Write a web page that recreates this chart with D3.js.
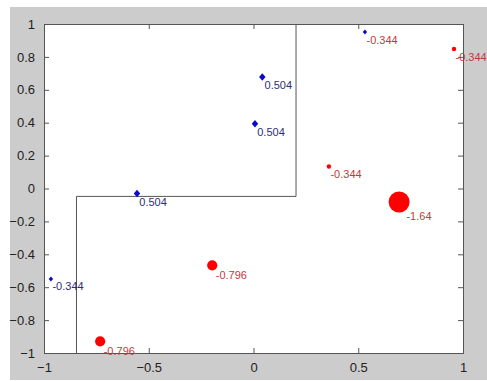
<!DOCTYPE html>
<html>
<head>
<meta charset="utf-8">
<script src="https://cdn.jsdelivr.net/npm/d3@7"></script>
<style>
body { margin: 0; background: #fff; }
svg { display: block; font-family: Arial, "Liberation Sans", sans-serif; }
</style>
</head>
<body>
<div id="chart"></div>
<script>
// point data
var ptX = [0.042, 0.007, -0.556, -0.967, 0.532, 0.957, 0.36, 0.695, -0.197, -0.732];
var ptY = [0.678, 0.394, -0.03, -0.55, 0.951, 0.848, 0.134, -0.082, -0.467, -0.929];
var ptVal = [0.504, 0.504, 0.504, -0.344, -0.344, -0.344, -0.344, -1.64, -0.796, -0.796];
var ptKind = ["diamond", "diamond", "diamond", "diamond", "diamond", "circle", "circle", "circle", "circle", "circle"];
var ptLabelGroup = ["blue", "blue", "blue", "blue", "red", "red", "red", "red", "red", "red"];

// boundary (step line)
var stepX = [-0.845, -0.845, 0.203, 0.203];
var stepY = [-1, -0.048, -0.048, 1];

var xTicks = [-1, -0.5, 0, 0.5, 1];
var yTicks = [-1, -0.8, -0.6, -0.4, -0.2, 0, 0.2, 0.4, 0.6, 0.8, 1];

var W = 487, H = 381;
var margin = { top: 24, right: 24, bottom: 28, left: 44 },
    width = W - margin.left - margin.right,
    height = H - margin.top - margin.bottom;

var svg = d3.select("#chart")
    .append("svg")
    .attr("width", W)
    .attr("height", H);

// grey figure background
svg.append("rect")
    .attr("x", 10).attr("y", 7)
    .attr("width", W - 10).attr("height", H - 8)
    .attr("fill", "#cccccc");

var g = svg.append("g")
    .attr("transform", "translate(" + margin.left + "," + margin.top + ")");

var x = d3.scaleLinear().domain([-1, 1]).range([0, width]);
var y = d3.scaleLinear().domain([-1, 1]).range([height, 0]);
var r = d3.scaleLinear().domain([0, 1.64]).range([0, 10.5]);

g.append("rect")
    .attr("width", width).attr("height", height)
    .attr("fill", "#fff");

var fmt = function (d) { return d3.format("")(d); };

// axes, ticks pointing inwards like matlab
g.append("g")
    .attr("transform", "translate(0," + height + ")")
    .call(d3.axisBottom(x).tickValues(xTicks).tickSize(-5).tickPadding(10).tickFormat(fmt));
g.append("g")
    .call(d3.axisTop(x).tickValues(xTicks).tickSize(-5).tickFormat(""));
g.append("g")
    .call(d3.axisLeft(y).tickValues(yTicks).tickSize(-5).tickPadding(9).tickFormat(fmt));
g.append("g")
    .attr("transform", "translate(" + width + ",0)")
    .call(d3.axisRight(y).tickValues(yTicks).tickSize(-5).tickFormat(""));

g.selectAll(".domain").attr("stroke", "#555");
g.selectAll(".tick line").attr("stroke", "#555");
g.selectAll(".tick text").attr("fill", "#222").style("font-size", "13px");

// step line
var stepData = stepX.map(function (d, i) { return [d, stepY[i]]; });
g.append("path")
    .datum(stepData)
    .attr("fill", "none")
    .attr("stroke", "#555")
    .attr("stroke-width", 1)
    .attr("d", d3.line()
        .x(function (d) { return x(d[0]); })
        .y(function (d) { return y(d[1]); }));

var data = ptX.map(function (d, i) {
    return { x: d, y: ptY[i], v: ptVal[i], kind: ptKind[i], lab: ptLabelGroup[i] };
});

var labelColor = d3.scaleOrdinal().domain(["blue", "red"]).range(["#2e2e78", "#c23a3a"]);

// markers
g.selectAll("mypoint")
    .data(data)
    .enter()
    .append("path")
    .attr("transform", function (d) { return "translate(" + x(d.x) + "," + y(d.y) + ")"; })
    .attr("fill", function (d) { return d.kind == "circle" ? "#ff0000" : "#0a0ac8"; })
    .attr("d", function (d) {
        var s = r(Math.abs(d.v));
        if (d.kind == "circle") {
            return "M" + (-s) + ",0A" + s + "," + s + " 0 1,0 " + s + ",0A" + s + "," + s + " 0 1,0 " + (-s) + ",0Z";
        }
        return "M0," + (-s * 1.15) + "L" + s + ",0L0," + (s * 1.15) + "L" + (-s) + ",0Z";
    });

// value labels
g.selectAll("mylabel")
    .data(data)
    .enter()
    .append("text")
    .attr("x", function (d) { return x(d.x) + 0.7 * r(Math.abs(d.v)); })
    .attr("y", function (d) { return y(d.y) + 6 + 0.75 * r(Math.abs(d.v)); })
    .attr("dy", "0.35em")
    .attr("fill", function (d) { return labelColor(d.lab); })
    .style("font-size", "11px")
    .text(function (d) { return d.v; });
</script>
</body>
</html>
